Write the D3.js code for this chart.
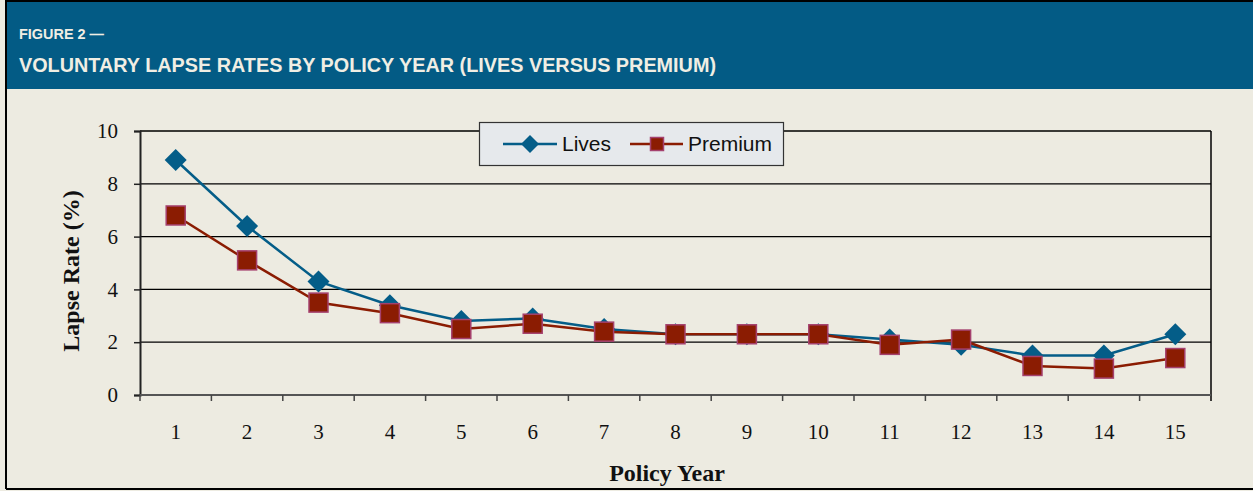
<!DOCTYPE html>
<html>
<head>
<meta charset="utf-8">
<script src="https://cdn.jsdelivr.net/npm/d3@7"></script>
<style>
  body { margin: 0; background: #EDEBE1; }
  svg { display: block; }
</style>
</head>
<body>
<svg id="chart"></svg>
<script>
// policy years on x axis
var years = ["1","2","3","4","5","6","7","8","9","10","11","12","13","14","15"];
// lapse rates (%)
var lives   = [8.9, 6.4, 4.3, 3.4, 2.8, 2.9, 2.5, 2.3, 2.3, 2.3, 2.1, 1.9, 1.5, 1.5, 2.3];
var premium = [6.8, 5.1, 3.5, 3.1, 2.5, 2.7, 2.4, 2.3, 2.3, 2.3, 1.9, 2.1, 1.1, 1.0, 1.4];
var yTicks = [0, 2, 4, 6, 8, 10];
var seriesNames = ["Lives", "Premium"];

var dimensions = {
    width: 1253,
    height: 491,
    margin: { top: 131, bottom: 96, right: 42, left: 140 }
}

var svg = d3.select("#chart")
    .attr("width", dimensions.width)
    .attr("height", dimensions.height)

// background + frame
svg.append("rect")
    .attr("x", 0).attr("y", 0)
    .attr("width", dimensions.width).attr("height", dimensions.height)
    .attr("fill", "#EDEBE1")

svg.append("rect")
    .attr("x", 6).attr("y", 1)
    .attr("width", dimensions.width).attr("height", 88)
    .attr("fill", "#035B85")

svg.append("path")
    .attr("d", "M6,489 L6,1 L1253,1")
    .attr("fill", "none")
    .attr("stroke", "#000")
    .attr("stroke-width", 2)
svg.append("line")
    .attr("x1", 6).attr("x2", 1253).attr("y1", 489).attr("y2", 489)
    .attr("stroke", "#000").attr("stroke-width", 2)

var sans = "'Liberation Sans', Arial, sans-serif"

svg.append("text")
    .attr("x", 19).attr("y", 39)
    .attr("fill", "#F0EEE4")
    .style("font-family", sans)
    .style("font-weight", "bold")
    .style("font-size", "14px")
    .attr("textLength", 85)
    .attr("lengthAdjust", "spacingAndGlyphs")
    .text("FIGURE 2 —")

svg.append("text")
    .attr("x", 19).attr("y", 72)
    .attr("fill", "#F0EEE4")
    .style("font-family", sans)
    .style("font-weight", "bold")
    .style("font-size", "21px")
    .attr("textLength", 697)
    .attr("lengthAdjust", "spacingAndGlyphs")
    .text("VOLUNTARY LAPSE RATES BY POLICY YEAR (LIVES VERSUS PREMIUM)")

var xScale = d3.scaleBand()
    .domain(years)
    .range([dimensions.margin.left, dimensions.width - dimensions.margin.right])

var yScale = d3.scaleLinear()
    .domain([0, 10])
    .range([dimensions.height - dimensions.margin.bottom, dimensions.margin.top])

var serif = "'Liberation Serif', 'Times New Roman', serif"

// gridlines
svg.append("g")
    .selectAll("line")
    .data(yTicks.filter(function(d){ return d > 0; }))
    .enter()
    .append("line")
    .attr("x1", dimensions.margin.left)
    .attr("x2", dimensions.width - dimensions.margin.right)
    .attr("y1", function(d){ return yScale(d); })
    .attr("y2", function(d){ return yScale(d); })
    .attr("stroke", function(d){ return d == 10 ? "#3a3a36" : "#000"; })
    .attr("stroke-width", function(d){ return d == 10 ? 2 : 1.2; })

// right border
svg.append("line")
    .attr("x1", dimensions.width - dimensions.margin.right)
    .attr("x2", dimensions.width - dimensions.margin.right)
    .attr("y1", yScale(10))
    .attr("y2", yScale(0) + 6)
    .attr("stroke", "#000").attr("stroke-width", 1.5)

// y axis
var yAxis = d3.axisLeft(yScale).tickValues(yTicks).tickSize(6).tickPadding(16)
var yG = svg.append("g")
    .attr("transform", "translate(" + dimensions.margin.left + ",0)")
    .call(yAxis)
yG.select(".domain").attr("stroke", "#222").attr("stroke-width", 2)
yG.selectAll(".tick line").attr("stroke", "#222").attr("stroke-width", 1.5)
yG.selectAll("text")
    .style("font-family", serif).style("font-size", "21px").attr("fill", "#111")

// x axis: ticks between categories
var xG = svg.append("g")
    .attr("transform", "translate(0," + yScale(0) + ")")
xG.append("line")
    .attr("x1", dimensions.margin.left)
    .attr("x2", dimensions.width - dimensions.margin.right)
    .attr("stroke", "#555").attr("stroke-width", 2)
xG.selectAll(".xtick")
    .data(years)
    .enter()
    .append("line")
    .attr("class", "xtick")
    .attr("x1", function(d){ return xScale(d); })
    .attr("x2", function(d){ return xScale(d); })
    .attr("y1", 0).attr("y2", 6)
    .attr("stroke", "#444").attr("stroke-width", 1.5)
xG.selectAll(".xlabel")
    .data(years)
    .enter()
    .append("text")
    .attr("class", "xlabel")
    .attr("x", function(d){ return xScale(d) + xScale.bandwidth() / 2; })
    .attr("y", 44)
    .attr("text-anchor", "middle")
    .style("font-family", serif).style("font-size", "21px").attr("fill", "#111")
    .text(function(d){ return d; })

// axis titles
svg.append("text")
    .attr("x", 667).attr("y", 481)
    .attr("text-anchor", "middle")
    .style("font-family", serif).style("font-weight", "bold").style("font-size", "24px")
    .attr("fill", "#111")
    .text("Policy Year")

svg.append("text")
    .attr("transform", "translate(79,271) rotate(-90)")
    .attr("text-anchor", "middle")
    .style("font-family", serif).style("font-weight", "bold").style("font-size", "24px")
    .attr("fill", "#111")
    .text("Lapse Rate (%)")

var blue = "#045D88", red = "#8B1C02", redEdge = "#A5416E"

var line = d3.line()
    .x(function(d, i){ return xScale(years[i]) + xScale.bandwidth() / 2; })
    .y(function(d){ return yScale(d); })

function diamond(g, cx, cy, r) {
    g.append("path")
        .attr("d", "M" + cx + "," + (cy - r) + " L" + (cx + r) + "," + cy + " L" + cx + "," + (cy + r) + " L" + (cx - r) + "," + cy + "Z")
        .attr("fill", blue)
}
function square(g, cx, cy, s) {
    g.append("rect")
        .attr("x", cx - s / 2).attr("y", cy - s / 2)
        .attr("width", s).attr("height", s)
        .attr("fill", red).attr("stroke", redEdge).attr("stroke-width", 1.5)
}

// Lives series
var livesG = svg.append("g")
livesG.append("path")
    .datum(lives)
    .attr("d", line)
    .attr("fill", "none").attr("stroke", blue).attr("stroke-width", 2.5)
lives.forEach(function(d, i){
    diamond(livesG, xScale(years[i]) + xScale.bandwidth() / 2, yScale(d), 11)
})

// Premium series
var premG = svg.append("g")
premG.append("path")
    .datum(premium)
    .attr("d", line)
    .attr("fill", "none").attr("stroke", red).attr("stroke-width", 2.5)
premium.forEach(function(d, i){
    square(premG, xScale(years[i]) + xScale.bandwidth() / 2, yScale(d), 19)
})

// legend
var leg = svg.append("g")
leg.append("rect")
    .attr("x", 479.5).attr("y", 122.5).attr("width", 304).attr("height", 43)
    .attr("fill", "#E6E9EC").attr("stroke", "#333").attr("stroke-width", 1.2)
leg.append("line")
    .attr("x1", 503).attr("x2", 557).attr("y1", 144).attr("y2", 144)
    .attr("stroke", blue).attr("stroke-width", 2.5)
diamond(leg, 530, 144, 9)
leg.append("line")
    .attr("x1", 630).attr("x2", 683).attr("y1", 144).attr("y2", 144)
    .attr("stroke", red).attr("stroke-width", 2.5)
square(leg, 657, 144, 13)
leg.selectAll(".legtext")
    .data(seriesNames)
    .enter()
    .append("text")
    .attr("x", function(d, i){ return i == 0 ? 562 : 688; })
    .attr("y", 151)
    .style("font-family", sans)
    .style("font-size", "21px")
    .attr("fill", "#111")
    .text(function(d){ return d; })
</script>
</body>
</html>
